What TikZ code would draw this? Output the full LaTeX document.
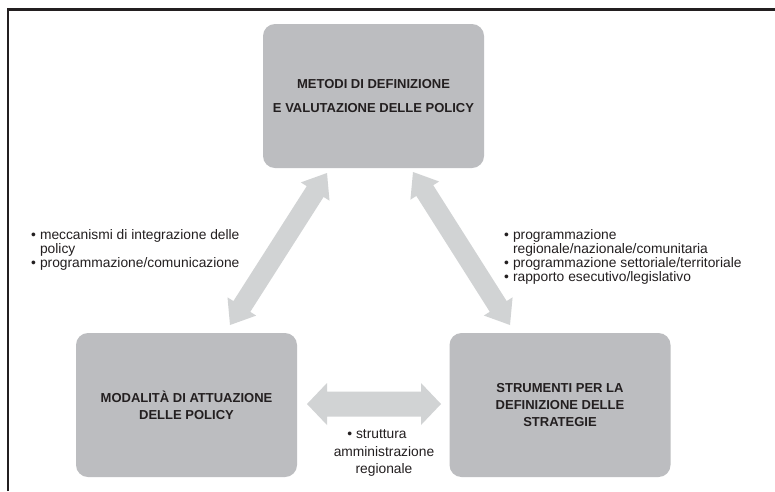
\documentclass[tikz,border=0pt]{standalone}
\usepackage{fontspec}
\setmainfont{Liberation Sans}
\usetikzlibrary{calc}
\definecolor{boxgray}{HTML}{BCBDC0}
\definecolor{arrgray}{HTML}{D1D3D4}
\definecolor{txt}{HTML}{231F20}
\newcommand{\dblarrow}[5]{% A, B, head length, shaft half, head half
  \fill[arrgray] (#1)
    -- ($(#1)!#3!(#2)!#5!-90:(#2)$)
    -- ($(#1)!#3!(#2)!#4!-90:(#2)$)
    -- ($(#2)!#3!(#1)!#4!90:(#1)$)
    -- ($(#2)!#3!(#1)!#5!90:(#1)$)
    -- (#2)
    -- ($(#2)!#3!(#1)!#5!-90:(#1)$)
    -- ($(#2)!#3!(#1)!#4!-90:(#1)$)
    -- ($(#1)!#3!(#2)!#4!90:(#2)$)
    -- ($(#1)!#3!(#2)!#5!90:(#2)$)
    -- cycle;}
\begin{document}
\begin{tikzpicture}[x=1pt,y=-1pt,
  box/.style={fill=boxgray, rounded corners=12pt, minimum width=221pt, minimum height=144pt,
    inner sep=0pt, align=center, text=txt, font=\bfseries\fontsize{13}{17}\selectfont},
  frameline/.style={draw=txt, line width=2.3pt},
  listtext/.style={text=txt, font=\fontsize{13.8}{14}\selectfont, inner sep=0pt}]
\useasboundingbox (0,0) rectangle (775,491);
\fill[white] (0,0) rectangle (775,491);
% frame
\draw[frameline] (8,491) -- (8,9.5) -- (775,9.5);
% boxes
\node[box, font=\bfseries\fontsize{13}{24}\selectfont] (met) at (373.5,96) {METODI DI DEFINIZIONE\\E VALUTAZIONE DELLE POLICY};
\node[box] (mod) at (186.5,405) {MODALITÀ DI ATTUAZIONE\\DELLE POLICY};
\node[box] (str) at (560,405) {STRUMENTI PER LA\\DEFINIZIONE DELLE\\STRATEGIE};
% arrow end points
\coordinate (la1) at (230,325);
\coordinate (la2) at (327,173);
\coordinate (ra1) at (413,172);
\coordinate (ra2) at (510,325);
\coordinate (ha1) at (307,404);
\coordinate (ha2) at (441,404);
\dblarrow{la1}{la2}{22pt}{10pt}{17pt}
\dblarrow{ra1}{ra2}{22pt}{10pt}{17pt}
\dblarrow{ha1}{ha2}{20pt}{12.5pt}{21pt}
% lists
\node[listtext, anchor=base west] (ll) at (31,239) {\begin{tabular}[t]{@{}l@{\hspace{4pt}}l@{}}\textbullet & meccanismi di integrazione delle\\ & policy\\ \textbullet & programmazione/comunicazione\end{tabular}};
\node[listtext, anchor=base west] (rl) at (504,239) {\begin{tabular}[t]{@{}l@{\hspace{4pt}}l@{}}\textbullet & programmazione\\ & regionale/nazionale/comunitaria\\ \textbullet & programmazione settoriale/territoriale\\ \textbullet & rapporto esecutivo/legislativo\end{tabular}};
\node[listtext, align=center, font=\fontsize{13.8}{17.5}\selectfont] (bt) at (384,453) {\textbullet\ struttura\hspace*{14pt}\\amministrazione\\regionale};
\end{tikzpicture}
\end{document}
